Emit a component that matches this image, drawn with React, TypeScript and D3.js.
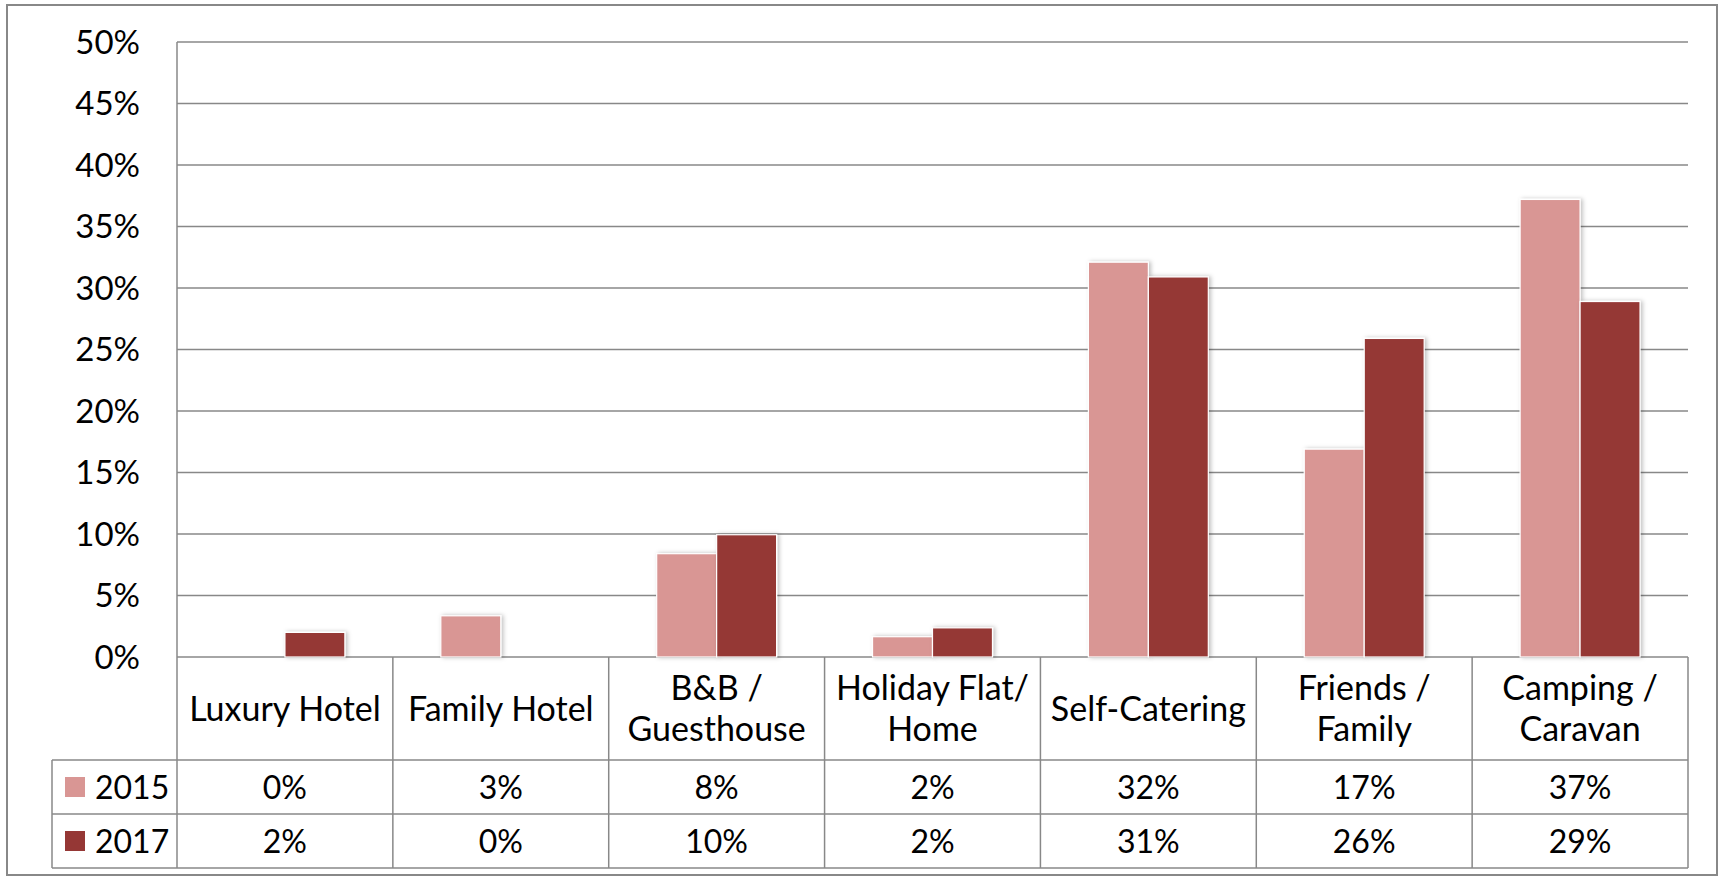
import React from 'react';
import * as d3 from 'd3';

const categories = [
  ['Luxury Hotel'],
  ['Family Hotel'],
  ['B&B /', 'Guesthouse'],
  ['Holiday Flat/', 'Home'],
  ['Self-Catering'],
  ['Friends /', 'Family'],
  ['Camping /', 'Caravan'],
];
const series = ['2015', '2017'];
const values2015 = [0, 0.0335, 0.084, 0.0165, 0.321, 0.169, 0.372];
const values2017 = [0.02, 0, 0.0994, 0.0237, 0.309, 0.259, 0.289];
const yTicks = [0, 0.05, 0.1, 0.15, 0.2, 0.25, 0.3, 0.35, 0.4, 0.45, 0.5];
const colors = ['#d99694', '#953735'];

const W = 1721;
const H = 877;
const font = 'Lato, "Open Sans", sans-serif';

export default function App() {
  const left = 177;
  const right = 1688;
  const top = 42;
  const base = 657;
  const rowCat = 760;
  const row1 = 814;
  const row2 = 868;
  const legendLeft = 52;

  const y = d3.scaleLinear().domain([0, 0.5]).range([base, top]);
  const keys = categories.map((c) => c.join(' '));
  const x0 = d3.scaleBand<string>().domain(keys).range([left, right]).padding(0);
  const x1 = d3
    .scaleBand<string>()
    .domain(series)
    .range([0, x0.bandwidth()])
    .paddingInner(0)
    .paddingOuter(0.8);
  const pct = d3.format('.0%');
  const data = [values2015, values2017];
  const grid = '#888888';

  return (
    <svg width={W} height={H} style={{ position: 'absolute', left: 0, top: 0 }} fontFamily={font}>
      <defs>
        <filter id="sh" x="-20%" y="-20%" width="140%" height="140%">
          <feDropShadow dx="2" dy="0" stdDeviation="2" floodColor="#000" floodOpacity="0.25" />
        </filter>
      </defs>
      <rect x={0} y={0} width={W} height={H} fill="#fff" />
      <rect x={7} y={5} width={1710} height={870} fill="none" stroke={grid} strokeWidth={2} />

      {/* gridlines and y labels */}
      {yTicks.map((t) => (
        <g key={t}>
          <line x1={left} x2={right} y1={y(t)} y2={y(t)} stroke={grid} strokeWidth={1.5} />
          <text x={140} y={y(t)} dy="0.36em" textAnchor="end" fontSize={33} fill="#000">
            {pct(t)}
          </text>
        </g>
      ))}
      <line x1={left} x2={left} y1={top} y2={row2} stroke={grid} strokeWidth={1.5} />

      {/* bars */}
      {series.map((s, si) =>
        data[si].map((v, i) =>
          v > 0 ? (
            <rect
              key={s + i}
              x={(x0(keys[i]) as number) + (x1(s) as number)}
              y={y(v)}
              width={x1.bandwidth()}
              height={base - y(v)}
              fill={colors[si]}
              stroke="#fff"
              strokeWidth={1.2}
              filter="url(#sh)"
            />
          ) : null,
        ),
      )}

      {/* data table */}
      <line x1={right} x2={right} y1={base} y2={row2} stroke={grid} strokeWidth={1.5} />
      {[rowCat, row1, row2].map((ry) => (
        <line key={ry} x1={legendLeft} x2={right} y1={ry} y2={ry} stroke={grid} strokeWidth={1.5} />
      ))}
      <line x1={legendLeft} x2={legendLeft} y1={rowCat} y2={row2} stroke={grid} strokeWidth={1.5} />
      {keys.slice(1).map((k) => (
        <line key={k} x1={x0(k)} x2={x0(k)} y1={base} y2={row2} stroke={grid} strokeWidth={1.5} />
      ))}

      {categories.map((lines, i) => {
        const cx = (x0(keys[i]) as number) + x0.bandwidth() / 2;
        const cy = (base + rowCat) / 2;
        const lh = 41;
        return (
          <text key={keys[i]} x={cx} textAnchor="middle" fontSize={34} fill="#000">
            {lines.map((l, li) => (
              <tspan key={li} x={cx} y={cy + (li - (lines.length - 1) / 2) * lh} dy="0.36em">
                {l}
              </tspan>
            ))}
          </text>
        );
      })}

      {series.map((s, si) => {
        const ry0 = si === 0 ? rowCat : row1;
        const ry1 = si === 0 ? row1 : row2;
        const cy = (ry0 + ry1) / 2;
        return (
          <g key={s}>
            <rect x={65} y={cy - 10} width={20} height={20} fill={colors[si]} />
            <text x={95} y={cy} dy="0.36em" fontSize={32} fill="#000">
              {s}
            </text>
            {data[si].map((v, i) => (
              <text
                key={i}
                x={(x0(keys[i]) as number) + x0.bandwidth() / 2}
                y={cy}
                dy="0.36em"
                textAnchor="middle"
                fontSize={32}
                fill="#000"
              >
                {pct(v)}
              </text>
            ))}
          </g>
        );
      })}
    </svg>
  );
}
